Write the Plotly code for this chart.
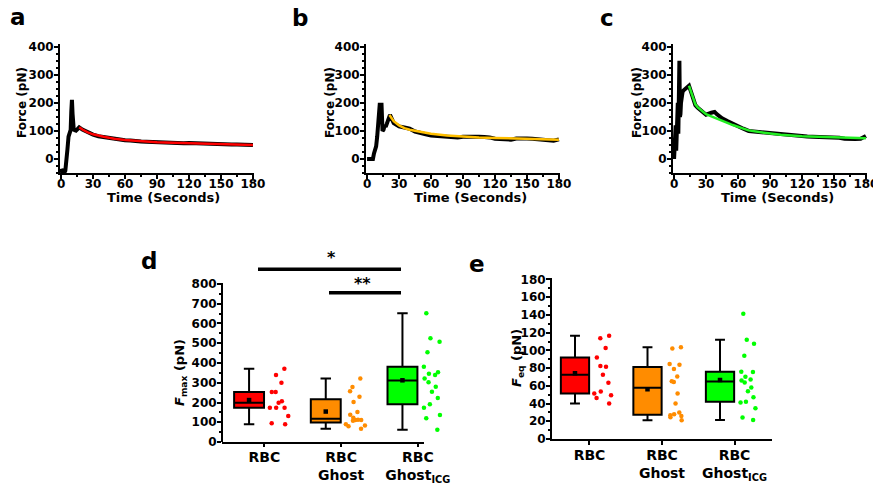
import numpy as np
import plotly.graph_objects as go

# The page body has an 8px margin; the figure is sized so it fills the 881x485 window.
OFF = 8
W, H = 881 - OFF, 485 - OFF
FONT = "DejaVu Sans"

# ---------------- data ----------------
# Panel a (RBC force trace + fit)
a_raw_time = [0, 1, 2, 3, 4, 5, 6, 7, 8, 9, 9.6, 10.2, 10.8, 11.4, 12, 13, 14, 15, 16, 17,
              20, 25, 30, 35, 40, 45, 50, 55, 60, 65, 70, 75, 80, 85, 90, 95, 100, 105, 110, 115,
              120, 125, 130, 135, 140, 145, 150, 155, 160, 165, 170, 175, 180]
a_raw_force = [-35, -48, -44, -49, -42, -15, 35, 80, 98, 104, 170, 211, 160, 102, 100, 103, 101, 105, 108, 113,
               105, 94, 87, 81, 78, 74, 71, 69, 67, 66, 63, 62, 61, 60, 61, 59, 58, 57, 57, 56,
               57, 56, 55, 55, 54, 54, 53, 53, 52, 52, 51, 51, 50]
a_fit_time = [17, 20, 25, 30, 40, 50, 60, 75, 90, 105, 120, 140, 160, 180]
a_fit_force = [113, 105, 95, 88, 79, 72, 68, 63, 60, 58, 56, 54, 52, 50]

# Panel b (RBC ghost)
b_raw_time = [0, 3, 5.5, 6.5, 7.5, 8.5, 9.5, 10.5, 11.5, 12, 12.5, 13, 13.5, 14.5, 15.5, 16.5, 17.5, 18.5,
              19.5, 20.5, 21.5, 25, 30, 35, 40, 45, 50, 55, 60, 65, 70, 75, 80, 85, 90, 95, 100, 105,
              110, 115, 120, 125, 130, 135, 140, 145, 150, 155, 160, 165, 170, 175, 180]
b_raw_force = [0, 0, 0, 20, 35, 45, 80, 150, 185, 200, 160, 195, 200, 100, 105, 120, 115, 125,
               140, 150, 157, 128, 116, 112, 108, 98, 92, 88, 84, 82, 80, 78, 76, 77, 79, 80, 80, 79,
               78, 77, 72, 71, 70, 69, 73, 74, 73, 72, 70, 68, 66, 65, 70]
b_fit_time = [21, 23, 25, 30, 35, 40, 50, 60, 75, 90, 105, 120, 140, 160, 180]
b_fit_force = [157, 145, 135, 120, 110, 104, 96, 90, 84, 80, 77, 75, 73, 71, 69]

# Panel c (RBC ghost ICG)
c_raw_time = [0, 0.5, 1, 1.5, 2, 2.5, 3, 3.5, 4, 4.5, 5, 5.5, 6, 6.5, 7, 8, 9, 10, 11, 12, 13, 14,
              16, 18, 20, 22, 25, 30, 35, 38, 40, 45, 50, 55, 60, 65, 70, 75, 80, 85, 90, 95, 100,
              105, 110, 115, 120, 125, 130, 135, 140, 145, 150, 155, 160, 165, 170, 175, 178, 180]
c_raw_force = [0, 60, 10, 120, 30, 180, 60, 200, 90, 200, 350, 150, 160, 200, 230, 240, 245, 248, 250, 255, 258, 261,
               238, 212, 192, 183, 172, 158, 165, 168, 160, 145, 135, 125, 118, 108, 100, 98, 97, 95, 92, 90, 87,
               85, 83, 82, 80, 80, 79, 78, 80, 77, 78, 76, 72, 70, 71, 72, 78, 82]
c_fit_time = [14, 16, 18, 20, 22, 25, 30, 35, 40, 45, 50, 55, 60, 70, 80, 90, 100, 120, 140, 160, 180]
c_fit_force = [261, 240, 215, 195, 185, 175, 160, 152, 145, 137, 129, 121, 115, 102, 96, 90, 86, 81, 78, 76, 74]

time_ticks = [0, 30, 60, 90, 120, 150, 180]

# Panel d: F_max (pN)
categories = ["RBC", "RBC<br>Ghost", "RBC<br>Ghost<sub>ICG</sub>"]
d_rbc = [371, 339, 300, 253, 253, 206, 199, 174, 174, 174, 132, 95, 90]
d_ghost = [322, 278, 257, 229, 203, 152, 138, 123, 111, 112, 108, 113, 84, 80, 90, 67]
d_ghost_icg = [652, 525, 508, 454, 381, 353, 339, 346, 321, 302, 280, 255, 223, 191, 174, 137, 120, 62]

# Panel e: F_eq (pN)
e_rbc = [116.6, 113.6, 102.6, 92, 81.5, 82.3, 72.5, 63.4, 53.6, 51.3, 49.4, 46.4, 40]
e_ghost = [103.4, 102.2, 83.8, 84.5, 78.9, 70.5, 65.2, 64.2, 51.3, 40, 21.1, 26, 24.5, 27.9, 29.8, 26.8]
e_ghost_icg = [141.2, 112, 107.6, 94, 75.5, 75.8, 70.2, 67.2, 63.8, 66, 58.1, 54, 47.2, 41.9, 41.1, 34.7, 24.2, 21.5]

# ---------------- helpers (window pixels -> paper fractions) ----------------
def px(x):
    return (x - OFF) / W

def py(y):
    return 1 - (y - OFF) / H

RED = "#ff0000"
ORANGE = "#ff8c00"
GREEN = "#00ff00"
YELLOW = "#ffbf00"
FIT_GREEN = "#22ee22"

fig = go.Figure()

# ---- top panels ----
top = [
    ("x", "y", a_raw_time, a_raw_force, a_fit_time, a_fit_force, RED),
    ("x2", "y2", b_raw_time, b_raw_force, b_fit_time, b_fit_force, YELLOW),
    ("x3", "y3", c_raw_time, c_raw_force, c_fit_time, c_fit_force, FIT_GREEN),
]
for xa, ya, rt, rf, ft, ff, col in top:
    fig.add_trace(go.Scatter(x=rt, y=rf, mode="lines", line=dict(color="black", width=4),
                             xaxis=xa, yaxis=ya, showlegend=False, hoverinfo="skip"))
    fig.add_trace(go.Scatter(x=ft, y=ff, mode="lines", line=dict(color=col, width=2.5),
                             xaxis=xa, yaxis=ya, showlegend=False, hoverinfo="skip"))

# ---- box panels ----
def add_boxes(groups, xa, ya):
    for i, (vals, col) in enumerate(groups):
        fig.add_trace(go.Box(
            y=vals, x0=i, width=0.39, boxpoints="all", jitter=0.8, pointpos=2.0,
            fillcolor=col, line=dict(color="black", width=2),
            marker=dict(color=col, size=4.5), whiskerwidth=0.35,
            quartilemethod="inclusive", xaxis=xa, yaxis=ya, showlegend=False, hoverinfo="skip"))
        fig.add_trace(go.Scatter(
            x=[i], y=[float(np.mean(vals))], mode="markers",
            marker=dict(symbol="square", color="black", size=4.5),
            xaxis=xa, yaxis=ya, showlegend=False, hoverinfo="skip"))

add_boxes([(d_rbc, RED), (d_ghost, ORANGE), (d_ghost_icg, GREEN)], "x4", "y4")
add_boxes([(e_rbc, RED), (e_ghost, ORANGE), (e_ghost_icg, GREEN)], "x5", "y5")

tickfont = dict(family=FONT, size=12, color="black", weight="bold")
common_axis = dict(showline=True, linecolor="black", linewidth=2, ticks="outside", ticklen=4,
                   tickwidth=2, tickcolor="black", showgrid=False, zeroline=False,
                   tickfont=tickfont, fixedrange=True, automargin=False)

layout = dict(
    width=W, height=H, margin=dict(l=0, r=0, t=0, b=0, pad=0, autoexpand=False),
    paper_bgcolor="white", plot_bgcolor="white", showlegend=False,
    font=dict(family=FONT, color="black"),
)

# top axes
for n, (x0, x1) in enumerate([(60, 254), (366, 560), (673, 867)], start=1):
    sx = "" if n == 1 else str(n)
    layout["xaxis" + sx] = dict(common_axis, domain=[px(x0), px(x1)], range=[-1, 181],
                                anchor="y" + sx, tickmode="array", tickvals=time_ticks,
                                ticklabelstandoff=-5,
                                minor=dict(dtick=15, tick0=0, ticks="outside", ticklen=2,
                                           tickwidth=1.5, tickcolor="black"))
    layout["yaxis" + sx] = dict(common_axis, domain=[py(173), py(44)], range=[-50, 410],
                                anchor="x" + sx, tickmode="linear", tick0=0, dtick=100,
                                ticklabelstandoff=-2,
                                minor=dict(dtick=25, tick0=0, ticks="outside", ticklen=2,
                                           tickwidth=1.5, tickcolor="black"))

# d axes (bottom line is drawn shorter than the data area, as in the original)
layout["xaxis4"] = dict(common_axis, domain=[px(223), px(450)], range=[-0.34, 2.62], anchor="y4",
                        type="linear", tickmode="array", tickvals=[0.2, 1.2, 2.2], ticktext=categories,
                        ticklabelstandoff=-2, showline=False,
                        tickfont=dict(family=FONT, size=14, color="black", weight="bold"))
layout["yaxis4"] = dict(common_axis, domain=[py(442), py(283)], range=[0, 805], anchor="x4",
                        tickmode="linear", tick0=0, dtick=100, ticklabelstandoff=-2,
                        minor=dict(dtick=50, tick0=0, ticks="outside", ticklen=2,
                                   tickwidth=1.5, tickcolor="black"))
# e axes
layout["xaxis5"] = dict(common_axis, domain=[px(552), px(772)], range=[-0.317, 2.717], anchor="y5",
                        type="linear", tickmode="array", tickvals=[0.2, 1.2, 2.2], ticktext=categories,
                        ticklabelstandoff=-2,
                        tickfont=dict(family=FONT, size=14, color="black", weight="bold"))
layout["yaxis5"] = dict(common_axis, domain=[py(439), py(277.7)], range=[0, 182], anchor="x5",
                        tickmode="linear", tick0=0, dtick=20, ticklabelstandoff=-2,
                        minor=dict(dtick=10, tick0=0, ticks="outside", ticklen=2,
                                   tickwidth=1.5, tickcolor="black"))

fig.update_layout(**layout)

# ---- annotations ----
ann = []
def text(x, y, s, size, angle=0, xanchor="center"):
    ann.append(dict(x=px(x), y=py(y), xref="paper", yref="paper", text=s, showarrow=False,
                    textangle=angle, xanchor=xanchor, yanchor="middle",
                    font=dict(family=FONT, size=size, color="black", weight="bold")))

# panel letters
text(8, 17, "a", 23, xanchor="left")
text(299.5, 18, "b", 23)
text(606.5, 18, "c", 23)
text(148.5, 261, "d", 23)
text(476.5, 264, "e", 23)

# axis titles
for xc in (163.5, 470.5, 777.5):
    text(xc, 197, "Time (Seconds)", 13)
for xc in (22, 330, 637):
    text(xc, 103, "Force (pN)", 12, angle=-90)
text(180, 373, "<i>F</i><sub>max</sub> (pN)", 13, angle=-90)
text(517, 358, "<i>F</i><sub>eq</sub> (pN)", 13, angle=-90)

# significance marks
text(331, 257, "*", 16)
text(362, 283, "**", 16)
fig.update_layout(annotations=ann)

shapes = [
    dict(type="line", xref="paper", yref="paper", x0=px(258), x1=px(401), y0=py(269.3), y1=py(269.3),
         line=dict(color="black", width=3.5)),
    dict(type="line", xref="paper", yref="paper", x0=px(329), x1=px(401), y0=py(292.7), y1=py(292.7),
         line=dict(color="black", width=3.5)),
    # panel d bottom axis line
    dict(type="line", xref="paper", yref="paper", x0=px(222), x1=px(424), y0=py(443), y1=py(443),
         line=dict(color="black", width=2)),
]
fig.update_layout(shapes=shapes)

fig.write_html("out.html")
